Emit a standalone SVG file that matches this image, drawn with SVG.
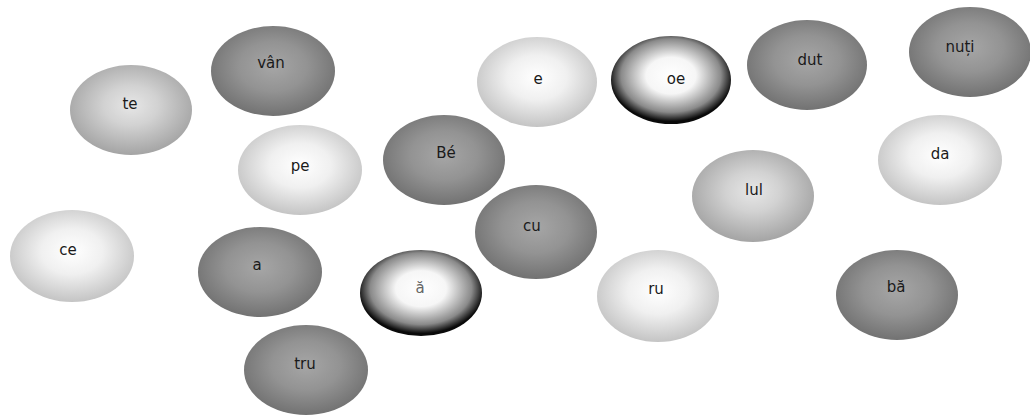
<svg xmlns="http://www.w3.org/2000/svg" width="1030" height="417" viewBox="0 0 1030 417">
<defs>
<radialGradient id="gLight" cx="50%" cy="45%" r="55%"><stop offset="0" stop-color="#ffffff"/><stop offset="0.45" stop-color="#f0f0f0"/><stop offset="1" stop-color="#c4c4c4"/></radialGradient>
<radialGradient id="gMid" cx="50%" cy="45%" r="55%"><stop offset="0" stop-color="#e6e6e6"/><stop offset="0.4" stop-color="#d2d2d2"/><stop offset="1" stop-color="#a4a4a4"/></radialGradient>
<radialGradient id="gDark" cx="50%" cy="45%" r="55%"><stop offset="0" stop-color="#a6a6a6"/><stop offset="0.5" stop-color="#939393"/><stop offset="1" stop-color="#727272"/></radialGradient>
<radialGradient id="gRing" cx="50%" cy="45%" r="52%"><stop offset="0" stop-color="#ffffff"/><stop offset="0.4" stop-color="#f6f6f6"/><stop offset="0.8" stop-color="#8a8a8a"/><stop offset="1" stop-color="#0a0a0a"/></radialGradient>
</defs>
<style>
text{font-family:"DejaVu Sans","Liberation Sans",sans-serif;font-size:15px;fill:#1a1a1a;text-anchor:middle}
</style>
<rect width="1030" height="417" fill="#ffffff"/>
<g id="n-te"><ellipse cx="131" cy="110" rx="61" ry="45" fill="url(#gMid)"/><text x="130" y="109">te</text></g>
<g id="n-van"><ellipse cx="273" cy="71" rx="62" ry="45" fill="url(#gDark)"/><text x="271" y="68">vân</text></g>
<g id="n-pe"><ellipse cx="300" cy="170" rx="62" ry="45" fill="url(#gLight)"/><text x="300" y="171">pe</text></g>
<g id="n-be"><ellipse cx="444" cy="160" rx="61" ry="45" fill="url(#gDark)"/><text x="446" y="158">Bé</text></g>
<g id="n-e"><ellipse cx="537" cy="82" rx="60" ry="45" fill="url(#gLight)"/><text x="538" y="84">e</text></g>
<g id="n-oe"><ellipse cx="671" cy="80" rx="60" ry="44" fill="url(#gRing)"/><text x="676" y="84">oe</text></g>
<g id="n-dut"><ellipse cx="807" cy="65" rx="60" ry="45" fill="url(#gDark)"/><text x="810" y="65">dut</text></g>
<g id="n-nuti"><ellipse cx="970" cy="52" rx="61" ry="45" fill="url(#gDark)"/><text x="960" y="52">nuți</text></g>
<g id="n-da"><ellipse cx="940" cy="160" rx="62" ry="45" fill="url(#gLight)"/><text x="940" y="159">da</text></g>
<g id="n-lul"><ellipse cx="753" cy="196" rx="61" ry="46" fill="url(#gMid)"/><text x="754" y="195">lul</text></g>
<g id="n-ce"><ellipse cx="72" cy="256" rx="62" ry="46" fill="url(#gLight)"/><text x="68" y="255">ce</text></g>
<g id="n-a"><ellipse cx="260" cy="272" rx="62" ry="45" fill="url(#gDark)"/><text x="257" y="270">a</text></g>
<g id="n-cu"><ellipse cx="536" cy="232" rx="61" ry="47" fill="url(#gDark)"/><text x="532" y="231">cu</text></g>
<g id="n-a2"><ellipse cx="421" cy="293" rx="61" ry="43" fill="url(#gRing)"/><text x="420" y="293" style="fill:#666">ă</text></g>
<g id="n-ru"><ellipse cx="658" cy="296" rx="61" ry="46" fill="url(#gLight)"/><text x="656" y="294">ru</text></g>
<g id="n-ba"><ellipse cx="897" cy="295" rx="61" ry="45" fill="url(#gDark)"/><text x="896" y="292">bă</text></g>
<g id="n-tru"><ellipse cx="306" cy="370" rx="62" ry="45" fill="url(#gDark)"/><text x="305" y="369">tru</text></g>
<g id="connectors"></g>
</svg>
